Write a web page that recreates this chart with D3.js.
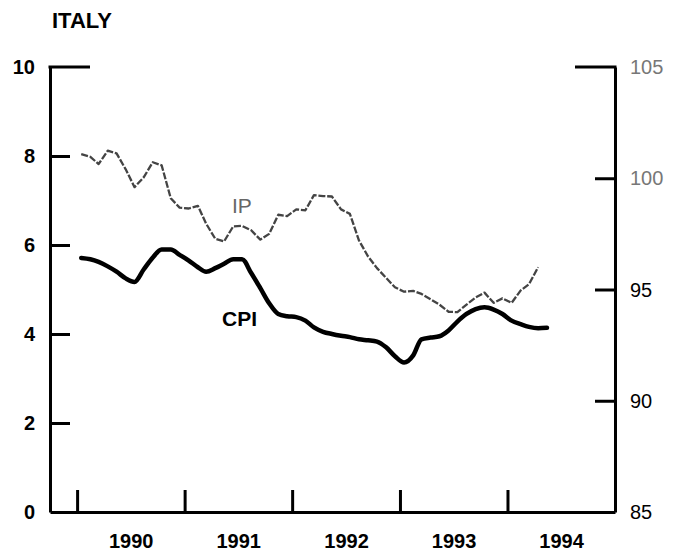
<!DOCTYPE html>
<html>
<head>
<meta charset="utf-8">
<script src="https://cdn.jsdelivr.net/npm/d3@7"></script>
<style>
  html, body { margin: 0; padding: 0; background: #fff; }
  svg text { font-family: "Liberation Sans", Arial, Helvetica, sans-serif; }
</style>
</head>
<body>
<svg id="chart" width="684" height="551"></svg>
<script>
// ---- data ----
const title = "ITALY";
const startYear = 1990; // first monthly observation: Jan 1990
const cpi = [5.71, 5.68, 5.62, 5.52, 5.40, 5.25, 5.17, 5.45, 5.72, 5.90, 5.90, 5.78,
             5.65, 5.50, 5.40, 5.48, 5.58, 5.68, 5.68, 5.37, 5.03, 4.69, 4.45, 4.40,
             4.38, 4.30, 4.15, 4.05, 4.00, 3.96, 3.93, 3.88, 3.86, 3.83, 3.70, 3.50,
             3.36, 3.52, 3.88, 3.92, 3.95, 4.08, 4.28, 4.45, 4.56, 4.60, 4.55, 4.45,
             4.30, 4.22, 4.16, 4.13, 4.14];
const ip = [101.08, 100.96, 100.64, 101.24, 101.12, 100.40, 99.60, 100.04, 100.72, 100.58, 99.10, 98.68,
            98.64, 98.76, 97.96, 97.28, 97.16, 97.84, 97.86, 97.66, 97.24, 97.50, 98.36, 98.30,
            98.60, 98.56, 99.24, 99.20, 99.18, 98.60, 98.40, 97.20, 96.48, 95.96, 95.52, 95.10,
            94.90, 94.94, 94.80, 94.56, 94.32, 94.00, 93.98, 94.32, 94.64, 94.86, 94.40, 94.60,
            94.40, 94.96, 95.24, 96.00];
const leftTicks = [0, 2, 4, 6, 8, 10];
const rightTicks = [85, 90, 95, 100, 105];
const yearTicks = [1990, 1991, 1992, 1993, 1994];

// ---- layout ----
const svg = d3.select("#chart");
const X0 = 50, X1 = 615, Y0 = 512, Y1 = 67;

const x = d3.scaleTime()
  .domain([new Date(1989, 9, 1), new Date(1995, 0, 1)])
  .range([X0, X1]);
const yL = d3.scaleLinear().domain([0, 10]).range([Y0, Y1]);
const yR = d3.scaleLinear().domain([85, 105]).range([Y0, Y1]);

const monthDate = i => new Date(startYear, i, 15);

// ---- axes ----
const axisStyle = g => {
  g.selectAll("path.domain").attr("stroke", "#000").attr("stroke-width", 3);
  g.selectAll(".tick line").attr("stroke", "#000").attr("stroke-width", 3);
};

// left axis
svg.append("g").attr("transform", `translate(${X0},0)`)
  .call(d3.axisLeft(yL).tickValues(leftTicks.filter(v => v > 0 && v < 10)).tickSize(-20).tickSizeOuter(0).tickFormat(""))
  .call(axisStyle);
svg.append("g").selectAll("text").data(leftTicks).join("text")
  .attr("x", 35).attr("y", d => yL(d)).attr("dy", "0.36em")
  .attr("text-anchor", "end").attr("font-size", 20).attr("font-weight", "bold")
  .text(d => d);
svg.append("line").attr("x1", X0 - 1.5).attr("x2", X0 + 40).attr("y1", yL(10)).attr("y2", yL(10))
  .attr("stroke", "#000").attr("stroke-width", 3);

// right axis
svg.append("g").attr("transform", `translate(${X1},0)`)
  .call(d3.axisRight(yR).tickValues(rightTicks.filter(v => v > 85 && v < 105)).tickSize(-20).tickSizeOuter(0).tickFormat(""))
  .call(axisStyle);
svg.append("g").selectAll("text").data(rightTicks).join("text")
  .attr("x", 630).attr("y", d => yR(d)).attr("dy", "0.36em")
  .attr("font-size", 20)
  .attr("fill", d => d >= 100 ? "#777" : "#000")
  .text(d => d);
svg.append("line").attr("x1", X1 - 40).attr("x2", X1 + 1.5).attr("y1", yR(105)).attr("y2", yR(105))
  .attr("stroke", "#000").attr("stroke-width", 3);

// bottom axis
svg.append("g").attr("transform", `translate(0,${Y0})`)
  .call(d3.axisBottom(x).tickValues(yearTicks.map(y => new Date(y, 0, 1))).tickSize(-22).tickSizeOuter(0).tickFormat(""))
  .call(axisStyle);
svg.append("g").attr("transform", `translate(0,${Y0})`)
  .call(d3.axisBottom(x).tickValues(yearTicks.map(y => new Date(y, 6, 2))).tickSize(0).tickPadding(22)
    .tickFormat(d => d.getFullYear()))
  .call(g => g.select("path.domain").remove())
  .call(g => g.selectAll("text").attr("font-size", 20).attr("font-weight", "bold")
    .attr("font-family", "Liberation Sans, Arial, sans-serif").attr("fill", "#000"));

// ---- lines ----
const ipLine = d3.line().x((d, i) => x(monthDate(i))).y(d => yR(d)).curve(d3.curveLinear);
svg.append("path").datum(ip).attr("d", ipLine)
  .attr("fill", "none").attr("stroke", "#444").attr("stroke-width", 2.3)
  .attr("stroke-dasharray", "7,1.8").attr("stroke-linejoin", "round");

const cpiLine = d3.line().x((d, i) => x(monthDate(i))).y(d => yL(d)).curve(d3.curveMonotoneX);
svg.append("path").datum(cpi).attr("d", cpiLine)
  .attr("fill", "none").attr("stroke", "#000").attr("stroke-width", 4.5)
  .attr("stroke-linejoin", "round").attr("stroke-linecap", "round");

// ---- text labels ----
svg.append("text").attr("x", 52).attr("y", 28).attr("font-size", 22).attr("font-weight", "bold").text(title);
svg.append("text").attr("x", 232).attr("y", 213).attr("font-size", 21).attr("fill", "#666").text("IP");
svg.append("text").attr("x", 222).attr("y", 326).attr("font-size", 21).attr("font-weight", "bold").text("CPI");
</script>
</body>
</html>
